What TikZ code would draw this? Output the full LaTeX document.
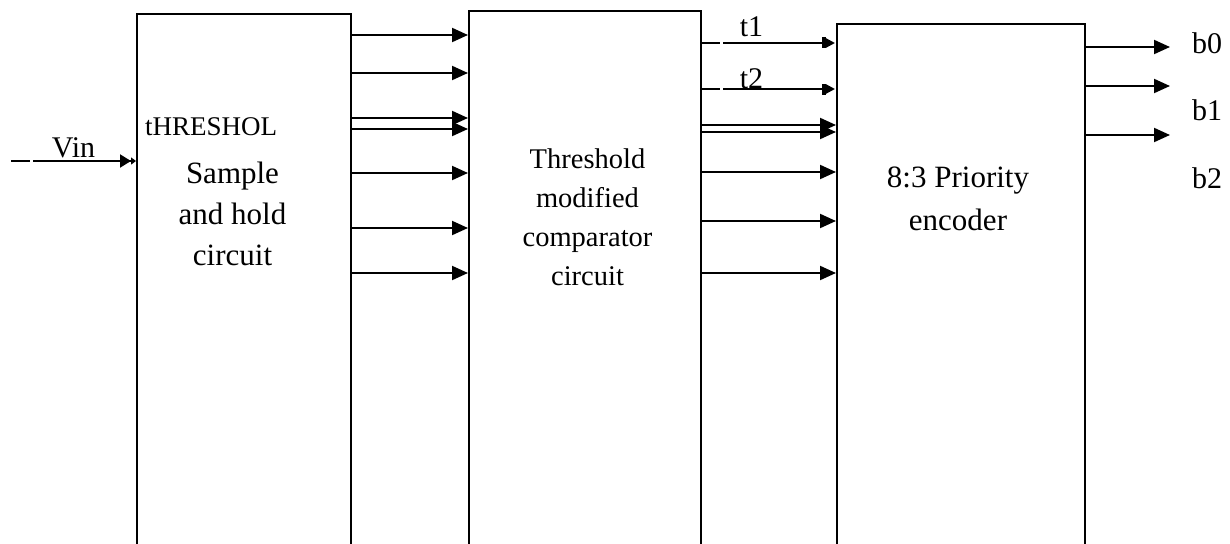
\documentclass[tikz,border=0pt]{standalone}
\usepackage{fontspec}
\setmainfont{Liberation Serif}
\usetikzlibrary{arrows.meta}
\begin{document}
\begin{tikzpicture}[x=1pt,y=-1pt,
  blk/.style={draw,line width=2pt,minimum width=#1,anchor=north west,inner sep=0pt},
  arr/.style={line width=2pt,-{Triangle[length=16pt,width=14pt]}},
  sarr/.style={line width=2pt,dash pattern=on 18pt off 3pt on 300pt,
    -{Rectangle[length=4pt,width=11pt] Triangle[length=9pt,width=9pt,sep=1pt]}},
  lbl/.style={align=center,inner sep=0pt,anchor=base},
  sm/.style={font=\fontsize{30}{34}\selectfont,inner sep=0pt,anchor=base}]
\useasboundingbox (0,0) rectangle (1230,543);
\node[blk=214pt,minimum height=540pt] (b1) at (136,13) {};
\node[blk=232pt,minimum height=545pt] (b2) at (468,10) {};
\node[blk=248pt,minimum height=532pt] (b3) at (836,23) {};
% texts (base anchor = baseline of the last line)
\node[sm,anchor=base west,font=\fontsize{27}{30}\selectfont] (th) at (145,135) {tHRESHOL};
\node[lbl,font=\fontsize{31}{41}\selectfont] (t1txt) at (232.5,265) {Sample\\and hold\\circuit};
\node[lbl,font=\fontsize{28.5}{39}\selectfont] (t2txt) at (587.5,285) {Threshold\\modified\\comparator\\circuit};
\node[lbl,font=\fontsize{31}{43}\selectfont] (t3txt) at (958,230) {8:3 Priority\\encoder};
% Vin
\coordinate (vs) at (11,161);
\draw[line width=2pt,dash pattern=on 19pt off 3pt on 300pt,
  -{Triangle[length=11pt,width=13pt] Triangle[length=5pt,width=7pt,sep=0pt]}] (vs) -- (b1.west |- vs);
\node[sm] (vin) at (73.5,157) {Vin};
% arrows b1 -> b2
\foreach \y in {35,73,118,129,173,228,273}{
  \draw[arr] (b1.east |- 0,\y) -- (b2.west |- 0,\y);
}
% arrows b2 -> b3
\foreach \y in {125,132,172,221,273}{
  \draw[arr] (b2.east |- 0,\y) -- (b3.west |- 0,\y);
}
\draw[sarr] (b2.east |- 0,43) -- (b3.west |- 0,43);
\draw[sarr] (b2.east |- 0,89) -- (b3.west |- 0,89);
\node[sm] (t1) at (751.5,37) {t1};
\node[sm] (t2) at (751.5,88) {t2};
% outputs
\coordinate (o0) at (1170,47);
\coordinate (o1) at (1170,86);
\coordinate (o2) at (1170,135);
\draw[arr] (b3.east |- o0) -- (o0);
\draw[arr] (b3.east |- o1) -- (o1);
\draw[arr] (b3.east |- o2) -- (o2);
\node[sm,anchor=base west] (lb0) at (1192,53) {b0};
\node[sm,anchor=base west] (lb1) at (1192,120) {b1};
\node[sm,anchor=base west] (lb2) at (1192,188) {b2};
\end{tikzpicture}
\end{document}
